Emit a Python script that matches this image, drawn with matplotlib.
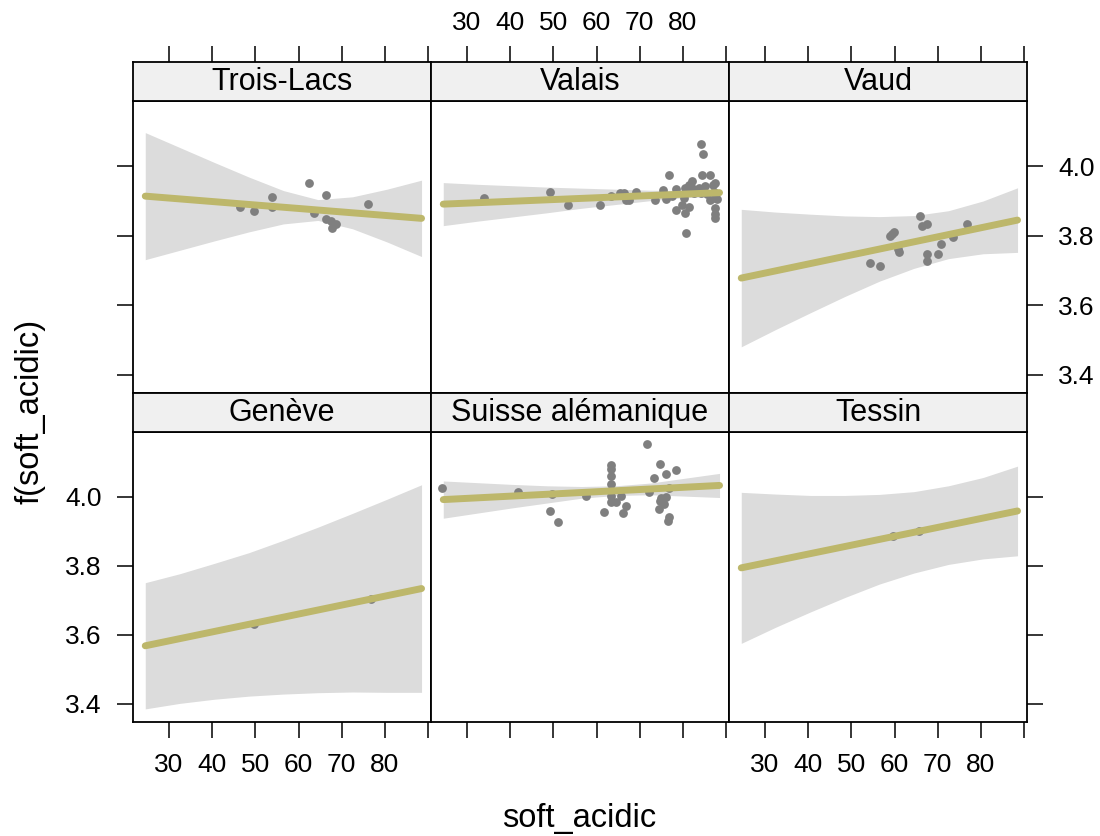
import matplotlib
matplotlib.use("Agg")
import matplotlib.pyplot as plt
import numpy as np

plt.rcParams['font.family'] = ['Liberation Sans', 'DejaVu Sans']

# ---------------- data ----------------
regions = ["Trois-Lacs", "Valais", "Vaud", "Genève", "Suisse alémanique", "Tessin"]

x_ticks = [30, 40, 50, 60, 70, 80, 90]
x_tick_labels = ["30", "40", "50", "60", "70", "80", ""]
y_ticks = [3.4, 3.6, 3.8, 4.0]
y_tick_labels = ["3.4", "3.6", "3.8", "4.0"]

# x-range of the fitted effect line
fit_x = [24.5, 88.5]
fit_trois_lacs = [3.914, 3.850]
fit_valais = [3.891, 3.924]
fit_vaud = [3.678, 3.845]
fit_geneve = [3.568, 3.734]
fit_suisse = [3.992, 4.033]
fit_tessin = [3.794, 3.959]

# confidence band read at these x positions
band_x = [24.5, 32.5, 40.5, 48.5, 56.5, 64.5, 72.5, 80.5, 88.5]
upper_trois_lacs = [4.097, 4.054, 4.011, 3.969, 3.930, 3.904, 3.912, 3.934, 3.960]
lower_trois_lacs = [3.731, 3.758, 3.785, 3.811, 3.834, 3.844, 3.820, 3.782, 3.740]
upper_valais = [3.953, 3.948, 3.944, 3.940, 3.937, 3.934, 3.931, 3.930, 3.935]
lower_valais = [3.829, 3.842, 3.854, 3.866, 3.879, 3.890, 3.901, 3.910, 3.913]
upper_vaud = [3.876, 3.868, 3.862, 3.857, 3.855, 3.858, 3.872, 3.900, 3.938]
lower_vaud = [3.480, 3.530, 3.578, 3.625, 3.669, 3.706, 3.734, 3.748, 3.752]
upper_geneve = [3.751, 3.777, 3.807, 3.838, 3.874, 3.912, 3.952, 3.993, 4.035]
lower_geneve = [3.385, 3.401, 3.413, 3.422, 3.428, 3.432, 3.434, 3.433, 3.433]
upper_suisse = [4.046, 4.041, 4.036, 4.032, 4.030, 4.032, 4.040, 4.054, 4.068]
lower_suisse = [3.938, 3.953, 3.968, 3.982, 3.996, 4.004, 4.006, 4.002, 3.998]
upper_tessin = [4.013, 4.008, 4.004, 4.004, 4.007, 4.015, 4.032, 4.056, 4.089]
lower_tessin = [3.575, 3.622, 3.666, 3.708, 3.747, 3.779, 3.804, 3.820, 3.829]

# partial residual points
pts_x_trois_lacs = [46.5, 49.7, 53.9, 53.9, 62.4, 66.3, 63.6, 66.4, 67.6, 68.7, 67.8, 76.1]
pts_y_trois_lacs = [3.883, 3.870, 3.912, 3.883, 3.952, 3.917, 3.866, 3.848, 3.843, 3.835, 3.822, 3.891]

pts_x_valais = [34.0, 49.2, 53.5, 60.8, 63.3, 65.5, 66.4, 66.8, 67.5, 69.1,
                84.1, 84.6, 76.7, 84.4, 86.4, 82.1, 81.4, 87.4, 75.3, 78.3,
                80.6, 83.7, 85.2, 73.5, 76.0, 77.4, 80.2, 79.8, 81.4, 78.3,
                80.6, 87.4, 86.4, 87.5, 87.4, 87.4, 80.7, 87.2, 84.1, 82.6,
                88.0, 86.9, 82.2, 85.7]
pts_y_valais = [3.909, 3.926, 3.889, 3.889, 3.915, 3.922, 3.922, 3.903, 3.903, 3.925,
                4.063, 4.034, 3.976, 3.974, 3.974, 3.957, 3.947, 3.952, 3.932, 3.935,
                3.937, 3.937, 3.942, 3.903, 3.906, 3.913, 3.908, 3.889, 3.884, 3.874,
                3.865, 3.908, 3.903, 3.879, 3.862, 3.850, 3.807, 3.926, 3.923, 3.923,
                3.905, 3.945, 3.937, 3.920]

pts_x_vaud = [54.3, 56.7, 59.0, 59.9, 59.4, 61.0, 60.7, 65.8, 66.4, 67.6, 67.5, 67.5, 70.0, 70.7, 73.6, 76.7]
pts_y_vaud = [3.721, 3.712, 3.800, 3.811, 3.806, 3.754, 3.762, 3.856, 3.827, 3.834, 3.748, 3.727, 3.748, 3.777, 3.797, 3.834]

pts_x_geneve = [49.8, 76.9]
pts_y_geneve = [3.632, 3.705]

pts_x_suisse = [24.1, 41.7, 49.6, 49.2, 51.1, 57.5,
                71.8, 63.3, 63.3, 63.3, 63.3, 63.3, 63.3, 65.6, 64.4, 66.8, 61.7, 66.1,
                74.6, 78.4, 76.2, 73.3, 76.7, 72.1, 75.0, 76.1, 74.6, 75.6, 74.4, 76.7, 76.5]
pts_y_suisse = [4.025, 4.015, 4.007, 3.960, 3.926, 4.002,
                4.152, 4.092, 4.080, 4.061, 4.037, 4.003, 3.984, 4.003, 3.984, 3.974, 3.955, 3.952,
                4.094, 4.078, 4.066, 4.056, 4.027, 4.013, 3.998, 4.000, 3.988, 3.979, 3.964, 3.942, 3.930]

pts_x_tessin = [59.7, 65.7]
pts_y_tessin = [3.885, 3.902]

fits = [fit_trois_lacs, fit_valais, fit_vaud, fit_geneve, fit_suisse, fit_tessin]
uppers = [upper_trois_lacs, upper_valais, upper_vaud, upper_geneve, upper_suisse, upper_tessin]
lowers = [lower_trois_lacs, lower_valais, lower_vaud, lower_geneve, lower_suisse, lower_tessin]
pxs = [pts_x_trois_lacs, pts_x_valais, pts_x_vaud, pts_x_geneve, pts_x_suisse, pts_x_tessin]
pys = [pts_y_trois_lacs, pts_y_valais, pts_y_vaud, pts_y_geneve, pts_y_suisse, pts_y_tessin]

# ---------------- style ----------------
W_PX, H_PX = 1100, 836
XLIM = (21.66, 90.69)
YLIM = (3.347, 4.188)
LINE_COL = "#BDB76B"
BAND_COL = "#DCDCDC"
PT_COL = "#7F7F7F"
STRIP_COL = "#F0F0F0"
TICK_LEN = 11.5
TICK_PAD = 11.0
TICK_FS = 19
STRIP_FS = 22
LAB_FS = 23.5
SPINE_W = 1.3

fig = plt.figure(figsize=(W_PX / 100, H_PX / 100), dpi=100)

col_left = [133, 431, 729]
col_w = 298
row_panel = [(101, 393), (432, 722)]
row_strip = [(62, 101), (393, 432)]


def frac_rect(x0, y0, x1, y1):
    return [x0 / W_PX, 1 - y1 / H_PX, (x1 - x0) / W_PX, (y1 - y0) / H_PX]


for i, name in enumerate(regions):
    r, c = divmod(i, 3)
    x0 = col_left[c]
    x1 = x0 + col_w
    py0, py1 = row_panel[r]
    sy0, sy1 = row_strip[r]

    ax = fig.add_axes(frac_rect(x0, py0, x1, py1))
    sax = fig.add_axes(frac_rect(x0, sy0, x1, sy1))

    # panel content
    ax.fill_between(band_x, lowers[i], uppers[i], color=BAND_COL, lw=0, zorder=1)
    ax.scatter(pxs[i], pys[i], s=40, color=PT_COL, lw=0, zorder=2)
    ax.plot(fit_x, fits[i], color=LINE_COL, lw=5, solid_capstyle='round', zorder=3)
    ax.set_xlim(*XLIM)
    ax.set_ylim(*YLIM)
    for sp in ax.spines.values():
        sp.set_linewidth(SPINE_W)

    ax.tick_params(direction='out', length=TICK_LEN, width=1.1, labelsize=TICK_FS,
                   pad=TICK_PAD, color='black')

    # x ticks: bottom row on panel bottom
    ax.set_xticks(x_ticks)
    if r == 1:
        ax.xaxis.set_ticks_position('bottom')
        if c in (0, 2):
            ax.set_xticklabels(x_tick_labels)
        else:
            ax.set_xticklabels([""] * len(x_ticks))
    else:
        ax.tick_params(axis='x', which='both', bottom=False, top=False,
                       labelbottom=False, labeltop=False)

    # y ticks
    ax.set_yticks(y_ticks)
    ax.set_yticklabels(y_tick_labels)
    ax.tick_params(axis='y', left=(c == 0), right=(c == 2),
                   labelleft=(c == 0 and r == 1), labelright=(c == 2 and r == 0))

    # strip
    sax.set_facecolor(STRIP_COL)
    sax.set_xlim(*XLIM)
    sax.set_ylim(0, 1)
    sax.set_yticks([])
    for sp in sax.spines.values():
        sp.set_linewidth(SPINE_W)
    sax.text(0.5, 0.48, name, transform=sax.transAxes, ha='center', va='center',
             fontsize=STRIP_FS)
    if r == 0:
        sax.set_xticks(x_ticks)
        sax.xaxis.set_ticks_position('top')
        sax.tick_params(axis='x', direction='out', length=TICK_LEN, width=1.1,
                        labelsize=TICK_FS, pad=TICK_PAD - 3,
                        labeltop=(c == 1), labelbottom=False)
        sax.set_xticklabels(x_tick_labels)
    else:
        sax.set_xticks([])

fig.text(579.5 / W_PX, 1 - 819 / H_PX, "soft_acidic", ha='center', va='center',
         fontsize=LAB_FS)
fig.text(30 / W_PX, 1 - 411.5 / H_PX, "f(soft_acidic)", ha='center', va='center',
         rotation=90, fontsize=LAB_FS)

fig.savefig("out.png", dpi=100)
